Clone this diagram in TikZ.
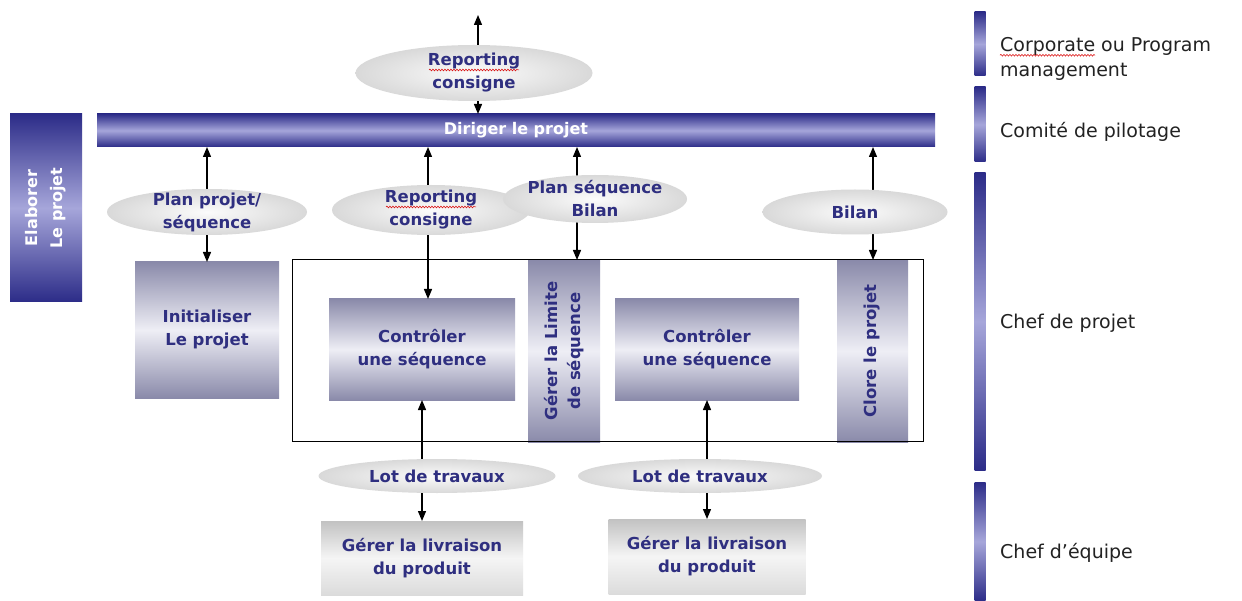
\documentclass[tikz,border=0pt]{standalone}
\usepackage{fontspec}
\setmainfont{DejaVu Sans}
\usetikzlibrary{arrows.meta,shapes.geometric,decorations.pathmorphing,calc}
\definecolor{navy}{HTML}{2C2C88}
\definecolor{navylight}{HTML}{A6A6DA}
\definecolor{slate}{HTML}{8A8AAA}
\definecolor{slatelight}{HTML}{EEEEF5}
\definecolor{lbl}{HTML}{2F2F80}
\definecolor{roletext}{HTML}{222222}
\begin{document}
\begin{tikzpicture}[x=1pt,y=-1pt,
  lbltext/.style={font=\bfseries\fontsize{16.5}{23}\selectfont, text=lbl, align=center},
  bluebar/.style={draw=none, top color=navy, bottom color=navy, middle color=navylight, inner sep=0pt, outer sep=0pt},
  procbox/.style={lbltext, draw=none, top color=slate, bottom color=slate, middle color=slatelight, inner sep=0pt, outer sep=0pt},
  greybox/.style={lbltext, draw=none, top color=gray!48, bottom color=gray!28, middle color=gray!8, inner sep=0pt, outer sep=0pt},
  flow/.style={ellipse, draw=none, inner sep=0pt, outer sep=0pt, shading=radial, inner color=gray!3, outer color=gray!30},
  link/.style={line width=1.3pt, {Triangle[width=8pt,length=10pt]}-{Triangle[width=8pt,length=10pt]}},
  squig/.style={red!85!black, line width=0.5pt, decorate, decoration={snake, amplitude=0.9pt, segment length=3pt}},
  role/.style={font=\fontsize{19}{25}\selectfont, text=roletext, align=left, anchor=west, inner sep=0pt}
]
\useasboundingbox (0,0) rectangle (1242,601);
\fill[white] (0,0) rectangle (1242,601);

% management bar and side block
\node[bluebar, minimum width=838pt, minimum height=33pt, font=\bfseries\fontsize{16}{20}\selectfont, text=white] (bar) at (516,130.5) {Diriger le projet};
\node[bluebar, rotate=90, minimum width=188pt, minimum height=72pt, font=\bfseries\fontsize{16}{25}\selectfont, text=white, align=center] (elab) at (46,208) {Elaborer\\Le projet};

% processes
\node[procbox, minimum width=144pt, minimum height=136pt] (init) at (207,330) {Initialiser\\Le projet};
\node[procbox, minimum width=186pt, minimum height=101pt] (ctrl1) at (422,349.5) {Contrôler\\une séquence};
\node[procbox, minimum width=184pt, minimum height=101pt] (ctrl2) at (707,349.5) {Contrôler\\une séquence};
\node[procbox, rotate=90, minimum width=182pt, minimum height=72pt] (gerer) at (564,351) {Gérer la Limite\\de séquence};
\node[procbox, rotate=90, minimum width=182pt, minimum height=71pt] (clore) at (872.5,351) {Clore le projet};
\node[draw=black, line width=1pt, minimum width=631pt, minimum height=181pt, inner sep=0pt, outer sep=0pt] (frame) at (607.5,350.5) {};

\node[greybox, minimum width=202pt, minimum height=74pt] (deliv1) at (422,558) {Gérer la livraison\\du produit};
\node[greybox, minimum width=197pt, minimum height=75pt] (deliv2) at (707,556.5) {Gérer la livraison\\du produit};

% role bars
\node[bluebar, minimum width=11pt, minimum height=64pt] (r1) at (980,44) {};
\node[bluebar, minimum width=11pt, minimum height=75pt] (r2) at (980,124.5) {};
\node[bluebar, minimum width=11pt, minimum height=297pt] (r3) at (980,321.5) {};
\node[bluebar, minimum width=11pt, minimum height=119pt] (r4) at (980,541.5) {};

% exchanges
\coordinate (topend) at (478,15);
\coordinate (ax2) at (428,0);
\coordinate (ax3) at (577,0);
\coordinate (ax4) at (873,0);
\draw[link] (topend) -- (topend |- bar.north);
\draw[link] (init.north |- bar.south) -- (init.north);
\draw[link] (ax2 |- bar.south) -- (ax2 |- ctrl1.north);
\draw[link] (ax3 |- bar.south) -- (ax3 |- frame.north);
\draw[link] (ax4 |- bar.south) -- (ax4 |- frame.north);
\draw[link] (ctrl1.south) -- (ctrl1.south |- deliv1.north);
\draw[link] (ctrl2.south) -- (ctrl2.south |- deliv2.north);

% flows
\node[flow, minimum width=237pt, minimum height=56pt, label={[lbltext]center:{Reporting\\consigne}}] (rep1) at (474,73) {};
\node[flow, minimum width=200pt, minimum height=46pt, label={[lbltext]center:{Plan projet/\\séquence}}] (ppl) at (207,212) {};
\node[flow, minimum width=198pt, minimum height=50pt, label={[lbltext]center:{Reporting\\consigne}}] (rep2) at (431,210) {};
\node[flow, minimum width=184pt, minimum height=48pt, label={[lbltext]center:{Plan séquence\\Bilan}}] (pseq) at (595,199) {};
\node[flow, minimum width=185pt, minimum height=45pt, label={[lbltext]center:{Bilan}}] (bilan) at (855,212) {};
\node[flow, minimum width=237pt, minimum height=34pt, label={[lbltext]center:{Lot de travaux}}] (lot1) at (437,476) {};
\node[flow, minimum width=244pt, minimum height=34pt, label={[lbltext]center:{Lot de travaux}}] (lot2) at (700,476) {};

% spelling marks
\draw[squig] ($(rep1.center)+(-45,-3)$) -- ++(90,0);
\draw[squig] ($(rep2.center)+(-45,-3)$) -- ++(90,0);

% roles
\node[role] (t1) at (1000,59) {Corporate ou Program\\management};
\node[role] (t2) at (1000,132) {Comité de pilotage};
\node[role] (t3) at (1000,323) {Chef de projet};
\node[role] (t4) at (1000,553) {Chef d’équipe};
\draw[squig] ($(t1.north west)+(0,18)$) -- ++(95,0);
\end{tikzpicture}
\end{document}
